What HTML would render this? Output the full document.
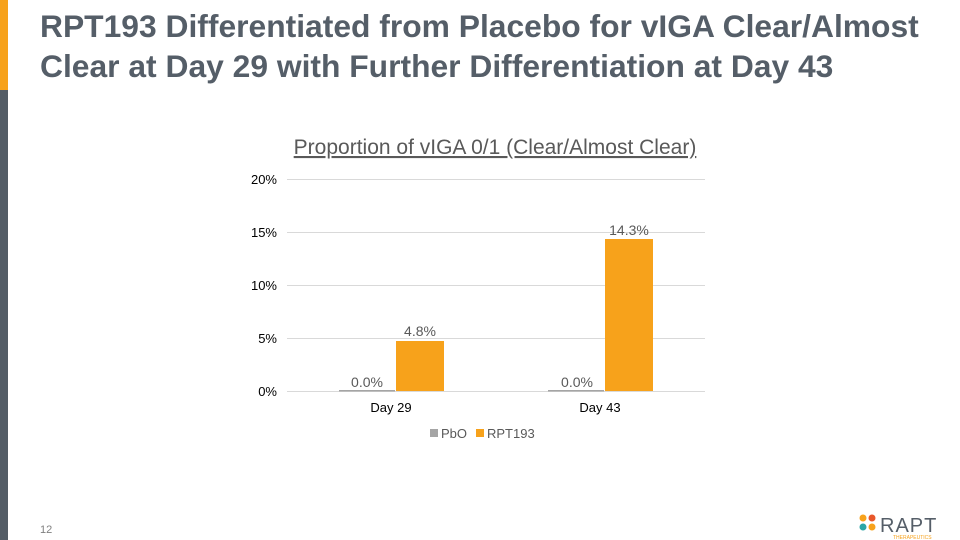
<!DOCTYPE html>
<html><head><meta charset="utf-8"><style>
body{margin:0;width:960px;height:540px;background:#fff;position:relative;overflow:hidden;font-family:"Liberation Sans",Arial,sans-serif}
.t{position:absolute;left:40px;top:6px;font-size:31.8px;font-weight:bold;color:#555e68;line-height:40px;white-space:nowrap}
</style></head><body>
<div style="position:absolute;left:0;top:0;width:8px;height:90px;background:#f7a21b"></div>
<div style="position:absolute;left:0;top:90px;width:8px;height:450px;background:#545d66"></div>
<div class="t">RPT193 Differentiated from Placebo for vIGA Clear/Almost<br>Clear at Day 29 with Further Differentiation at Day 43</div>
<svg width="960" height="540" style="position:absolute;left:0;top:0" font-family="Liberation Sans,Arial,sans-serif">
<text x="495" y="154" text-anchor="middle" font-size="21" fill="#595959" text-decoration="underline">Proportion of vIGA 0/1 (Clear/Almost Clear)</text>
<g stroke="#d9d9d9" stroke-width="1">
<line x1="287" x2="705" y1="179.5" y2="179.5"/><line x1="287" x2="705" y1="232.5" y2="232.5"/><line x1="287" x2="705" y1="285.5" y2="285.5"/><line x1="287" x2="705" y1="338.5" y2="338.5"/><line x1="287" x2="705" y1="391.5" y2="391.5"/>
</g>
<g font-size="13" fill="#000" text-anchor="end">
<text x="277" y="184">20%</text><text x="277" y="237">15%</text><text x="277" y="290">10%</text><text x="277" y="343">5%</text><text x="277" y="396">0%</text>
</g>
<rect x="339" y="390" width="56" height="1.5" fill="#a5a5a5"/>
<rect x="548" y="390" width="56" height="1.5" fill="#a5a5a5"/>
<rect x="396" y="341" width="48" height="50" fill="#f7a21b"/>
<rect x="605" y="239" width="48" height="152" fill="#f7a21b"/>
<g font-size="14" fill="#595959" text-anchor="middle">
<text x="367" y="387">0.0%</text><text x="420" y="336">4.8%</text><text x="577" y="387">0.0%</text><text x="629" y="235">14.3%</text>
</g>
<g font-size="13" fill="#000" text-anchor="middle"><text x="391" y="412">Day 29</text><text x="600" y="412">Day 43</text></g>
<rect x="430" y="429" width="8" height="8" fill="#a5a5a5"/><text x="441" y="438" font-size="13" fill="#595959">PbO</text>
<rect x="476" y="429" width="8" height="8" fill="#f7a21b"/><text x="487" y="438" font-size="13" fill="#595959">RPT193</text>
<text x="40" y="533" font-size="11" fill="#7f7f7f">12</text>
<g><circle cx="863" cy="518" r="3.5" fill="#f7a21b"/><circle cx="872" cy="518" r="3.5" fill="#e8572a"/><circle cx="863" cy="527" r="3.5" fill="#2aa6a6"/><circle cx="872" cy="527" r="3.5" fill="#f7a21b"/></g>
<text x="880" y="532" font-size="20" fill="#555e68" letter-spacing="1">RAPT</text>
<text x="893" y="539" font-size="5" fill="#f7a21b">THERAPEUTICS</text>
</svg>
</body></html>
